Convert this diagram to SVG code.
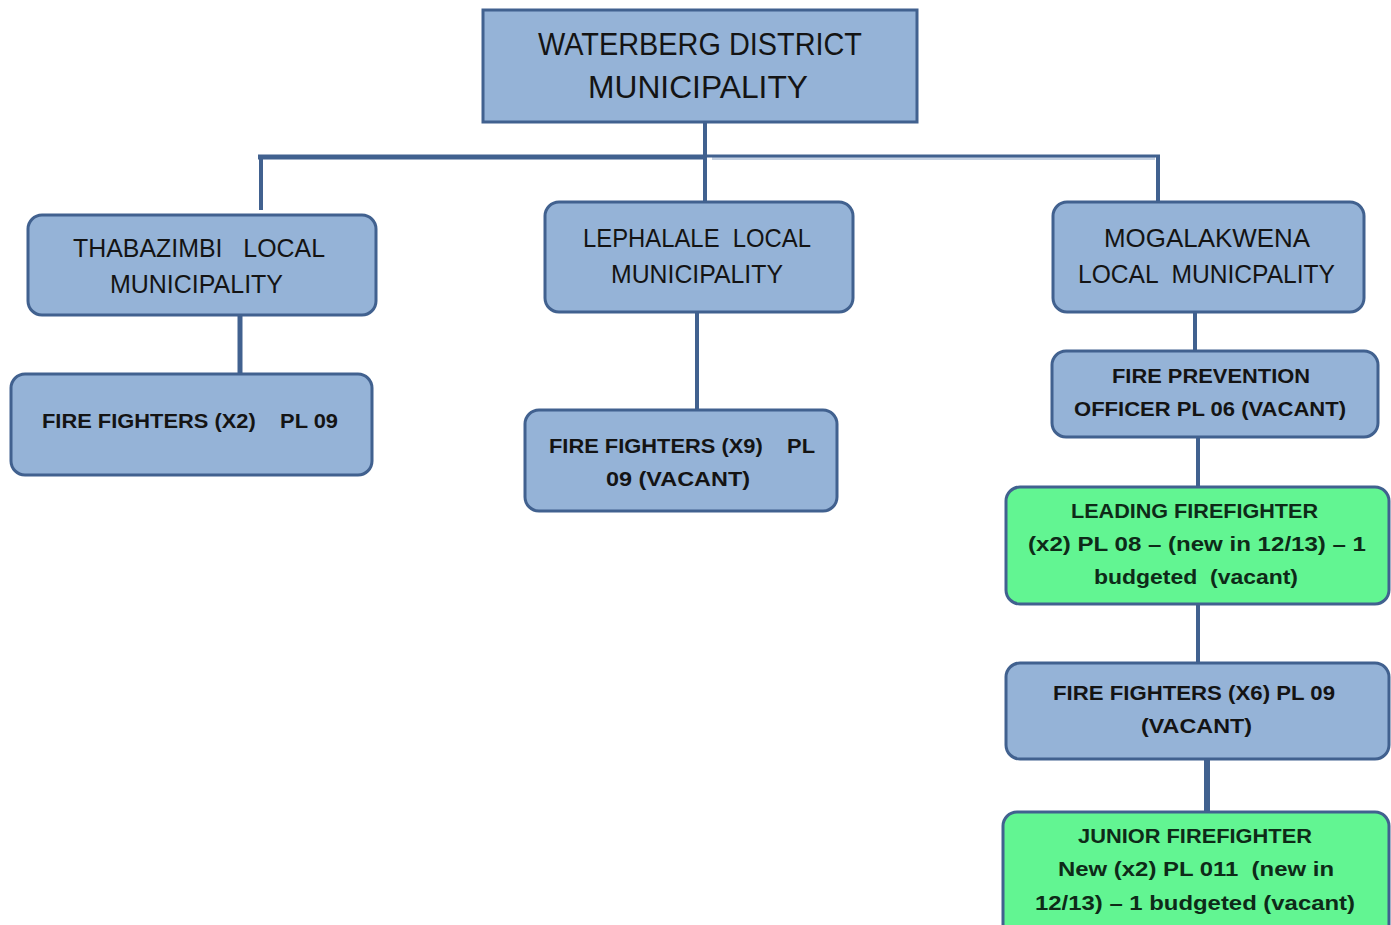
<svg xmlns="http://www.w3.org/2000/svg" width="1391" height="925" viewBox="0 0 1391 925">
<style>
.box{fill:#95B3D7;stroke:#41618F;stroke-width:3}
.grn{fill:#62F592;stroke:#41618F;stroke-width:3}
.t{font-family:"Liberation Sans",Arial,sans-serif;fill:#141414;text-anchor:start;white-space:pre}
.big{font-size:32px}
.mid{font-size:26px}
.sm{font-size:20px;font-weight:bold}
.g{fill:#0E2A18}
.c{fill:none;stroke:#41618F;stroke-width:4}
.cl{fill:none;stroke:#C5D1E2;stroke-width:3}
</style>
<rect width="1391" height="925" fill="#ffffff"/>
<g id="connectors">
<line class="c" x1="705" y1="122" x2="705" y2="202"/>
<line class="c" x1="258" y1="157" x2="705" y2="157" style="stroke-width:5"/>
<line class="c" x1="261" y1="155" x2="261" y2="210" style="stroke-width:4"/>
<line class="cl" x1="712" y1="158.5" x2="1155" y2="158.5"/>
<line class="c" x1="705" y1="156" x2="1160" y2="156" style="stroke-width:3"/>
<line class="c" x1="1158" y1="155" x2="1158" y2="202"/>
<line class="c" x1="240" y1="315" x2="240" y2="373" style="stroke-width:5"/>
<line class="c" x1="697" y1="312" x2="697" y2="410"/>
<line class="c" x1="1195" y1="312" x2="1195" y2="351"/>
<line class="c" x1="1198" y1="437" x2="1198" y2="487"/>
<line class="c" x1="1198" y1="604" x2="1198" y2="663"/>
<line class="c" x1="1207" y1="759" x2="1207" y2="812" style="stroke-width:6"/>
</g>
<g id="waterberg">
<rect class="box" x="483" y="10" width="434" height="112"/>
<text class="t big" x="538" y="55" textLength="324" lengthAdjust="spacingAndGlyphs">WATERBERG DISTRICT</text>
<text class="t big" x="588" y="98" textLength="220" lengthAdjust="spacingAndGlyphs">MUNICIPALITY</text>
</g>
<g id="thabazimbi">
<rect class="box" x="28" y="215" width="348" height="100" rx="14"/>
<text class="t mid" x="73" y="257" textLength="252" lengthAdjust="spacingAndGlyphs">THABAZIMBI   LOCAL</text>
<text class="t mid" x="110" y="293" textLength="173" lengthAdjust="spacingAndGlyphs">MUNICIPALITY</text>
</g>
<g id="lephalale">
<rect class="box" x="545" y="202" width="308" height="110" rx="14"/>
<text class="t mid" x="583" y="247" textLength="228" lengthAdjust="spacingAndGlyphs">LEPHALALE  LOCAL</text>
<text class="t mid" x="611" y="283" textLength="172" lengthAdjust="spacingAndGlyphs">MUNICIPALITY</text>
</g>
<g id="mogalakwena">
<rect class="box" x="1053" y="202" width="311" height="110" rx="14"/>
<text class="t mid" x="1104" y="247" textLength="206" lengthAdjust="spacingAndGlyphs">MOGALAKWENA</text>
<text class="t mid" x="1078" y="283" textLength="257" lengthAdjust="spacingAndGlyphs">LOCAL  MUNICPALITY</text>
</g>
<g id="ff-x2">
<rect class="box" x="11" y="374" width="361" height="101" rx="14"/>
<text class="t sm" x="42" y="428" textLength="296" lengthAdjust="spacingAndGlyphs">FIRE FIGHTERS (X2)    PL 09</text>
</g>
<g id="ff-x9">
<rect class="box" x="525" y="410" width="312" height="101" rx="14"/>
<text class="t sm" x="549" y="453" textLength="266" lengthAdjust="spacingAndGlyphs">FIRE FIGHTERS (X9)    PL</text>
<text class="t sm" x="606" y="486" textLength="144" lengthAdjust="spacingAndGlyphs">09 (VACANT)</text>
</g>
<g id="fire-prevention">
<rect class="box" x="1052" y="351" width="326" height="86" rx="14"/>
<text class="t sm" x="1112" y="383" textLength="198" lengthAdjust="spacingAndGlyphs">FIRE PREVENTION</text>
<text class="t sm" x="1074" y="416" textLength="272" lengthAdjust="spacingAndGlyphs">OFFICER PL 06 (VACANT)</text>
</g>
<g id="leading-firefighter">
<rect class="grn" x="1006" y="487" width="383" height="117" rx="14"/>
<text class="t sm g" x="1071" y="518" textLength="247" lengthAdjust="spacingAndGlyphs">LEADING FIREFIGHTER</text>
<text class="t sm g" x="1028" y="551" textLength="338" lengthAdjust="spacingAndGlyphs">(x2) PL 08 – (new in 12/13) – 1</text>
<text class="t sm g" x="1094" y="584" textLength="204" lengthAdjust="spacingAndGlyphs">budgeted  (vacant)</text>
</g>
<g id="ff-x6">
<rect class="box" x="1006" y="663" width="383" height="96" rx="14"/>
<text class="t sm" x="1053" y="700" textLength="282" lengthAdjust="spacingAndGlyphs">FIRE FIGHTERS (X6) PL 09</text>
<text class="t sm" x="1141" y="733" textLength="111" lengthAdjust="spacingAndGlyphs">(VACANT)</text>
</g>
<g id="junior-firefighter">
<rect class="grn" x="1003" y="812" width="386" height="130" rx="14"/>
<text class="t sm g" x="1078" y="843" textLength="234" lengthAdjust="spacingAndGlyphs">JUNIOR FIREFIGHTER</text>
<text class="t sm g" x="1058" y="876" textLength="276" lengthAdjust="spacingAndGlyphs">New (x2) PL 011  (new in</text>
<text class="t sm g" x="1035" y="910" textLength="320" lengthAdjust="spacingAndGlyphs">12/13) – 1 budgeted (vacant)</text>
</g>
</svg>
